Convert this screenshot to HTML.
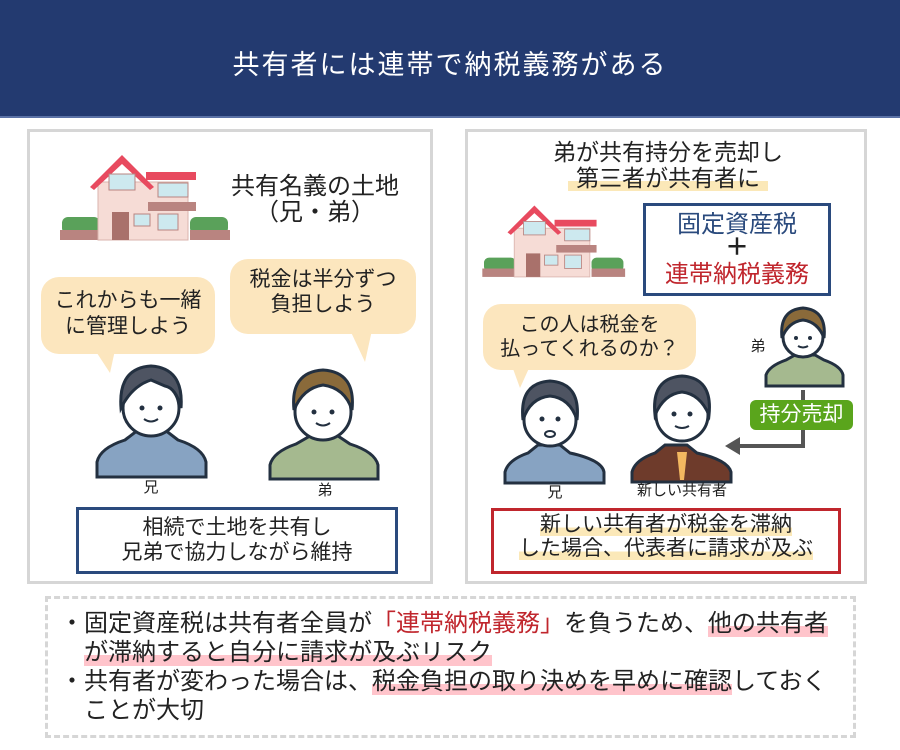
<!DOCTYPE html>
<html><head><meta charset="utf-8">
<style>
*{margin:0;padding:0;box-sizing:border-box}
body{width:900px;height:750px;background:#fff;position:relative;overflow:hidden;font-family:"Liberation Sans","Noto Sans CJK JP",sans-serif;color:#222}
.a{position:absolute}
.t{position:absolute;white-space:nowrap;text-align:center;line-height:1}
.hl{background:linear-gradient(transparent 62%,#fbe8b8 62%)}
.pk{background:linear-gradient(transparent 60%,#ffc4cb 60%)}
</style></head><body>
<div class="a" style="left:0;top:0;width:900px;height:118px;background:#233a70;border-bottom:2px solid #5b72a6"></div>
<div class="t" style="left:0;width:900px;top:52px;font-size:27px;color:#fff;letter-spacing:2px">共有者には連帯で納税義務がある</div>

<div class="a" style="left:27px;top:129px;width:406px;height:455px;border:3px solid #d6d6d6"></div>
<div class="a" style="left:465px;top:129px;width:402px;height:455px;border:3px solid #d6d6d6"></div>
<div class="a" style="left:45px;top:596px;width:811px;height:142px;border:3px dashed #d6d6d6"></div>

<svg class="a" style="left:0;top:0" width="900" height="750">
<defs>
<g id="house">
<rect x="0" y="65" width="38" height="17" fill="#5aa15a" rx="6"/><rect x="-2" y="78" width="40" height="10" fill="#b98480"/>
<rect x="128" y="65" width="38" height="17" fill="#5aa15a" rx="6"/><rect x="128" y="78" width="40" height="10" fill="#b98480"/>
<rect x="36" y="30" width="90" height="58" fill="#f6dcd6" stroke="#d9b3ad"/>
<polygon points="28,35 60,3 92,35 88,38 60,12 32,38" fill="#e84a5f"/>
<rect x="84" y="20" width="50" height="8" fill="#e84a5f"/>
<rect x="86" y="50" width="48" height="9" fill="#b98480"/>
<rect x="47" y="22" width="26" height="16" fill="#cde9ef" stroke="#b98480"/>
<rect x="96" y="31" width="30" height="14" fill="#cde9ef" stroke="#b98480"/>
<rect x="50" y="60" width="17" height="28" fill="#a9716b"/>
<rect x="72" y="62" width="16" height="12" fill="#cde9ef" stroke="#b98480"/>
<rect x="96" y="62" width="20" height="16" fill="#cde9ef" stroke="#b98480"/>
</g>
</defs>
<use href="#house" x="62" y="152"/>
<g transform="translate(484,203) scale(0.84)"><use href="#house"/></g>

<g fill="#fce6be">
<rect x="41" y="277" width="174" height="77" rx="18"/><polygon points="95,350 115,350 110,373"/>
<rect x="230" y="259" width="186" height="75" rx="18"/><polygon points="350,330 372,330 365,362"/>
<rect x="483" y="304" width="213" height="66" rx="18"/><polygon points="512,366 530,366 520,388"/>
</g>

<g stroke="#233040" stroke-width="3">
<path d="M97,477 L97,462 Q100,448 125,440 L138,430 L165,430 L178,440 Q203,448 206,462 L206,477Z" fill="#87a3c2"/>
<circle cx="151" cy="408" r="28" fill="#fff"/>
<path d="M121,408 Q118,368 151,366 Q184,368 181,408 Q176,388 165,386 L151,380 Q132,386 121,408Z" fill="#4e5462"/>
<path d="M270,479 L270,465 Q273,452 296,444 L310,436 L338,436 L350,444 Q375,452 378,465 L378,479Z" fill="#a5b98f"/>
<circle cx="323" cy="412" r="28" fill="#fff"/>
<path d="M294,410 Q290,372 323,370 Q356,372 352,410 Q345,388 323,385 Q303,388 294,410Z" fill="#8a6a3a"/>
<path d="M766,386 L766,375 Q769,366 786,360 L795,355 L815,355 L824,360 Q841,366 843,375 L843,386Z" fill="#a5b98f"/>
<circle cx="803" cy="337" r="20" fill="#fff"/>
<path d="M782,338 Q779,310 803,308 Q827,310 824,338 Q818,322 803,320 Q788,322 782,338Z" fill="#8a6a3a"/>
<path d="M505,483 L505,472 Q508,460 528,453 L538,445 L560,445 L570,453 Q602,460 604,472 L604,483Z" fill="#87a3c2"/>
<circle cx="550" cy="420" r="26" fill="#fff"/>
<path d="M523,420 Q519,383 550,381 Q581,383 577,420 Q570,398 550,396 Q530,398 523,420Z" fill="#4e5462"/>
<path d="M632,482 L632,472 Q635,460 655,453 L665,445 L687,445 L697,453 Q728,460 731,472 L731,482Z" fill="#6e3b2b"/>
<circle cx="682" cy="415" r="26" fill="#fff"/>
<path d="M655,415 Q651,378 682,376 Q713,378 709,415 Q700,394 682,392 Q664,394 655,415Z" fill="#4e5462"/>
</g>
<polygon points="677,452 687,452 684,480 680,480" fill="#f4b860"/>
<g fill="#233040">
<circle cx="142" cy="408" r="2.5"/><circle cx="160" cy="408" r="2.5"/>
<circle cx="314" cy="412" r="2.5"/><circle cx="332" cy="412" r="2.5"/>
<circle cx="796" cy="338" r="2"/><circle cx="810" cy="338" r="2"/>
<circle cx="542" cy="419" r="2.5"/><circle cx="558" cy="419" r="2.5"/>
<circle cx="674" cy="414" r="2.5"/><circle cx="690" cy="414" r="2.5"/>
</g>
<g stroke="#233040" stroke-width="2" fill="none">
<path d="M144,419 Q151,424 158,419"/><path d="M316,423 Q323,428 330,423"/><path d="M798,346 Q803,349 808,346"/><path d="M675,426 Q682,430 689,426"/>
</g>
<ellipse cx="550" cy="434" rx="5" ry="3" fill="#fff" stroke="#233040" stroke-width="2"/>

<path d="M803,390 L803,446 L738,446" fill="none" stroke="#555" stroke-width="4"/>
<polygon points="725,446 740,437 740,455" fill="#555"/>
<rect x="750" y="400" width="103" height="30" rx="6" fill="#5aa51c"/>

<rect x="77.5" y="508.5" width="319" height="64" fill="#fff" stroke="#2a4a7d" stroke-width="3"/>
<rect x="644.5" y="204.5" width="185" height="90" fill="#fff" stroke="#2a4a7d" stroke-width="3"/>
<rect x="492.5" y="509.5" width="347" height="63" fill="#fff" stroke="#c0262d" stroke-width="3"/>
</svg>

<div class="t" style="left:215px;width:200px;top:175px;font-size:24px">共有名義の土地</div>
<div class="t" style="left:215px;width:200px;top:201px;font-size:24px">（兄・弟）</div>
<div class="t" style="left:41px;width:174px;top:288px;font-size:21px;line-height:26px">これからも一緒<br>に管理しよう</div>
<div class="t" style="left:230px;width:186px;top:267px;font-size:21px;line-height:25px">税金は半分ずつ<br>負担しよう</div>
<div class="t" style="left:131px;width:40px;top:480px;font-size:15px">兄</div>
<div class="t" style="left:305px;width:40px;top:483px;font-size:15px">弟</div>
<div class="t" style="left:77px;width:320px;top:515px;font-size:21px;line-height:25px">相続で土地を共有し<br>兄弟で協力しながら維持</div>

<div class="t" style="left:468px;width:400px;top:141px;font-size:23px">弟が共有持分を売却し</div>
<div class="t" style="left:468px;width:400px;top:167px;font-size:23px"><span class="hl" style="padding:0 8px">第三者が共有者に</span></div>
<div class="t" style="left:644px;width:186px;top:213px;font-size:24px;color:#2a4a7d">固定資産税</div>
<div class="t" style="left:644px;width:186px;top:236px;font-size:24px;color:#222;font-weight:bold">＋</div>
<div class="t" style="left:644px;width:186px;top:263px;font-size:24px;color:#c0262d">連帯納税義務</div>
<div class="t" style="left:483px;width:213px;top:313px;font-size:20px;line-height:24px">この人は税金を<br>払ってくれるのか？</div>
<div class="t" style="left:740px;width:36px;top:339px;font-size:15px">弟</div>
<div class="t" style="left:750px;width:103px;top:404px;font-size:21px;color:#fff">持分売却</div>
<div class="t" style="left:535px;width:40px;top:485px;font-size:15px">兄</div>
<div class="t" style="left:622px;width:120px;top:483px;font-size:15px">新しい共有者</div>
<div class="t" style="left:492px;width:348px;top:513px;font-size:21px;line-height:24px"><span class="hl">新しい共有者が税金を滞納</span><br><span class="hl">した場合、代表者に請求が及ぶ</span></div>

<div class="a" style="left:60px;top:609px;font-size:24px;line-height:29px;white-space:nowrap">
・固定資産税は共有者全員が<span style="color:#c0262d">「連帯納税義務」</span>を負うため、<span class="pk">他の共有者</span><br>
<span style="padding-left:24px"></span><span class="pk">が滞納すると自分に請求が及ぶリスク</span><br>
・共有者が変わった場合は、<span class="pk">税金負担の取り決めを早めに確認</span>しておく<br>
<span style="padding-left:24px"></span>ことが大切
</div>
</body></html>
